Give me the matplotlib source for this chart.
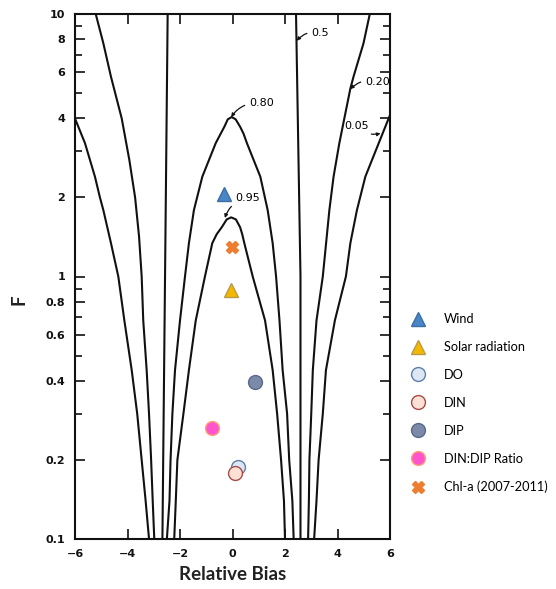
import numpy as np
import matplotlib
matplotlib.use("Agg")
import matplotlib.pyplot as plt

# probability contours (relative bias, F)
c05_left_x = [-6.0, -5.62, -5.24, -5.05, -4.92, -4.63, -4.35, -4.12, -3.84, -3.63, -3.46, -3.31, -3.18]
c05_left_f = [4.0, 3.22, 2.4, 2.0, 1.79, 1.34, 1.0, 0.68, 0.44, 0.3, 0.2, 0.14, 0.1]
c05_right_x = [6.0, 5.57, 5.06, 4.74, 4.49, 4.32, 3.9, 3.56, 3.44, 3.28, 3.2, 3.11]
c05_right_f = [4.12, 3.22, 2.4, 1.79, 1.34, 1.0, 0.68, 0.44, 0.3, 0.2, 0.14, 0.1]

c20_left_x = [-5.21, -4.92, -4.63, -4.22, -3.93, -3.71, -3.56, -3.46, -3.4, -3.27, -3.18, -3.1, -3.04, -2.98]
c20_left_f = [10, 7.73, 5.77, 4.0, 2.78, 2.0, 1.42, 1.0, 0.68, 0.44, 0.3, 0.2, 0.14, 0.1]
c20_right_x = [5.23, 4.99, 4.61, 4.49, 4.07, 3.85, 3.69, 3.44, 3.2, 3.06, 3.0, 2.93, 2.91, 2.88]
c20_right_f = [10, 7.73, 5.77, 5.2, 3.22, 2.4, 1.79, 1.0, 0.68, 0.44, 0.3, 0.2, 0.14, 0.1]

c50_left_x = [-2.47, -2.57, -2.67]
c50_left_f = [10, 1.0, 0.1]
c50_right_x = [2.42, 2.59, 2.59]
c50_right_f = [10, 1.0, 0.1]

c80_x = [-2.5, -2.4, -2.36, -2.29, -2.19, -2.0, -1.81, -1.66, -1.47, -1.15, -0.64, -0.45, -0.31, -0.18, -0.03,
         0.12, 0.29, 0.42, 0.55, 1.06, 1.34, 1.53, 1.66, 1.79, 1.91, 2.08, 2.16, 2.28, 2.33]
c80_f = [0.1, 0.14, 0.2, 0.3, 0.44, 0.68, 1.0, 1.34, 1.79, 2.4, 3.22, 3.5, 3.72, 3.97, 4.05,
         3.97, 3.72, 3.5, 3.22, 2.4, 1.79, 1.34, 1.0, 0.68, 0.44, 0.3, 0.2, 0.14, 0.1]

c95_x = [-2.22, -2.16, -2.1, -1.87, -1.66, -1.4, -1.05, -0.77, -0.6, -0.41, -0.22, -0.05,
         0.13, 0.29, 0.37, 0.45, 0.77, 1.24, 1.53, 1.7, 1.85, 1.96, 2.0]
c95_f = [0.1, 0.14, 0.2, 0.3, 0.44, 0.68, 1.0, 1.34, 1.45, 1.54, 1.65, 1.68,
         1.65, 1.54, 1.45, 1.34, 1.0, 0.68, 0.44, 0.3, 0.2, 0.14, 0.1]

# contour labels: text, text pos, arrow tip
contour_labels = ["0.5", "0.80", "0.95", "0.20", "0.05"]
label_x = [2.99, 0.62, 0.1, 5.04, 5.2]
label_f = [8.49, 4.57, 1.99, 5.52, 3.74]
label_ha = ["left", "left", "left", "left", "right"]
tip_x = [2.45, -0.05, -0.29, 4.49, 5.64]
tip_f = [7.9, 4.05, 1.67, 5.17, 3.51]

# model parameters
names = ["Wind", "Solar radiation", "DO", "DIN", "DIP", "DIN:DIP Ratio", "Chl-a (2007-2011)"]
bias = [-0.32, -0.05, 0.22, 0.1, 0.87, -0.77, -0.01]
fval = [2.06, 0.89, 0.1875, 0.179, 0.395, 0.265, 1.29]
markers = ["^", "^", "o", "o", "o", "o", "X"]
faces = ["#4a86c5", "#f5b800", "#dce6f5", "#fbe0d4", "#7a8aa8", "#ff55cc", "#ed7d31"]
edges = ["#3a6ea8", "#b89a4a", "#5f7fa8", "#a84a4a", "#5a6a88", "#ffa07a", "#ed7d31"]

xticks = [-6, -4, -2, 0, 2, 4, 6]
yticks = [0.1, 0.2, 0.4, 0.6, 0.8, 1, 2, 4, 6, 8, 10]
yticklabels = ["0.1", "0.2", "0.4", "0.6", "0.8", "1", "2", "4", "6", "8", "10"]
yminor = [0.3, 0.5, 0.7, 0.9, 3, 5, 7, 9]

fig = plt.figure(figsize=(5.56, 5.89), dpi=100)
ax = fig.add_axes([75 / 556, 1 - 539 / 589, 315 / 556, 525 / 589])
ax.set_yscale("log")

lc = "#111111"
for xs, fs in [(c05_left_x, c05_left_f), (c05_right_x, c05_right_f),
               (c20_left_x, c20_left_f), (c20_right_x, c20_right_f),
               (c50_left_x, c50_left_f), (c50_right_x, c50_right_f),
               (c80_x, c80_f), (c95_x, c95_f)]:
    ax.plot(xs, fs, color=lc, lw=1.5, solid_joinstyle="round", zorder=2)

for i, txt in enumerate(contour_labels):
    ax.annotate(txt, xy=(tip_x[i], tip_f[i]), xytext=(label_x[i], label_f[i]),
                ha=label_ha[i], va="center", fontsize=8, family="DejaVu Sans",
                arrowprops=dict(arrowstyle="-|>", color=lc, lw=0.9, mutation_scale=5,
                                shrinkA=1, shrinkB=0, connectionstyle="arc3,rad=0.3"))

for i in range(len(names)):
    ax.plot(bias[i], fval[i], linestyle="none", marker=markers[i],
            markersize=10 if markers[i] != "X" else 9,
            markerfacecolor=faces[i], markeredgecolor=edges[i],
            markeredgewidth=1.0, label=names[i], zorder=3)

ax.set_xlim(-6, 6)
ax.set_ylim(0.1, 10)
ax.set_xticks(xticks)
ax.set_xticklabels([str(v).replace("-", "\u2212") for v in xticks])
ax.set_yticks(yticks)
ax.set_yticklabels(yticklabels)
ax.set_yticks(yminor, minor=True)
ax.yaxis.set_minor_formatter(matplotlib.ticker.NullFormatter())
ax.tick_params(which="both", direction="in", top=True, right=True, color=lc)
ax.tick_params(axis="y", which="major", length=7, width=1.2, pad=7)
ax.tick_params(axis="y", which="minor", length=5, width=1.2)
ax.tick_params(axis="x", which="major", length=7, width=1.2, pad=7)
for lab in ax.get_xticklabels() + ax.get_yticklabels():
    lab.set_fontsize(8)
    lab.set_fontweight("bold")
    lab.set_color(lc)
for s in ax.spines.values():
    s.set_linewidth(1.5)
    s.set_color(lc)

ax.set_xlabel("Relative Bias", fontsize=13.5, fontweight="bold", family="Lato", color="#222222")
ax.xaxis.set_label_coords(0.5, -0.052)
ax.set_ylabel("F", fontsize=13.5, fontweight="bold", family="Lato", color="#222222")
ax.yaxis.set_label_coords(-0.15, 0.455)

ax.legend(loc="upper left", bbox_to_anchor=(408.3 / 556, 1 - 313 / 589),
          bbox_transform=fig.transFigure, frameon=False, borderpad=0, borderaxespad=0,
          handlelength=1.5, handletextpad=1.3, labelspacing=1.25,
          prop={"family": "Lato", "size": 9.2})

fig.savefig("out.png", dpi=100)
